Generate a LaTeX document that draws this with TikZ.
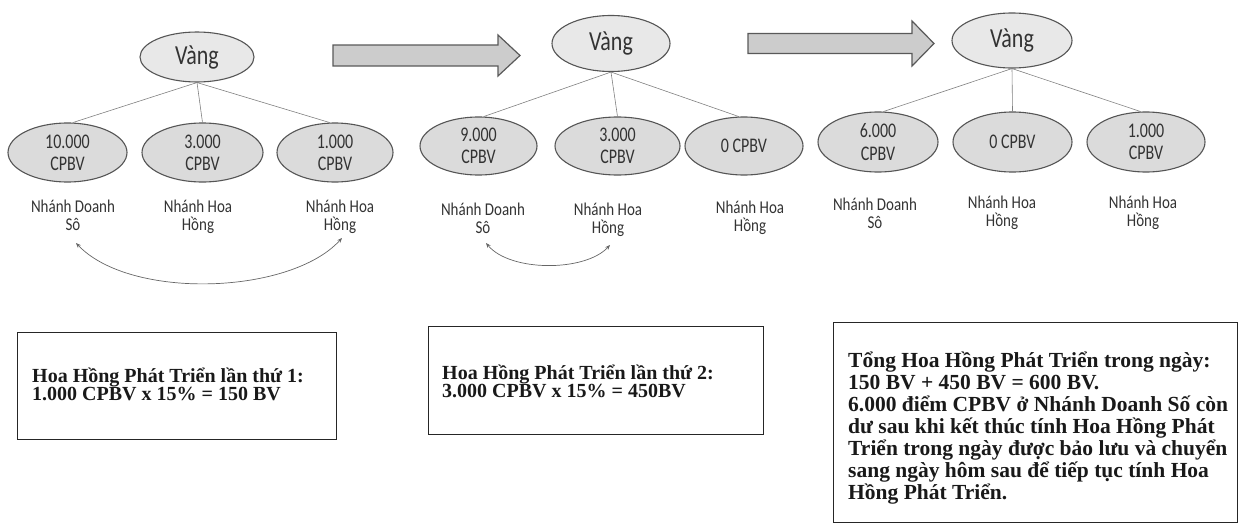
\documentclass[tikz,border=0pt]{standalone}
\usepackage{fontspec}
\usepackage{graphicx}
\setmainfont{Carlito}
\newfontfamily\tnr{Liberation Serif}
\usetikzlibrary{shapes.geometric,arrows.meta}
\definecolor{edge}{HTML}{555555}
\newcommand\vs[2]{\scalebox{1}[#1]{#2}}
\begin{document}
\begin{tikzpicture}[x=1pt,y=-1pt,
 oval/.style={ellipse, draw=edge, line width=1.1pt, fill=black!14, inner sep=0pt, text=black!80},
 topoval/.style={oval, fill=black!9, font=\fontsize{22}{22}\selectfont},
 kid/.style={oval, font=\fontsize{16}{17}\selectfont},
 lab/.style={inner sep=0pt, anchor=base, text=black!80, font=\fontsize{15}{15}\selectfont},
 link/.style={draw=black!50, line width=0.6pt},
 swap/.style={draw=black!60, line width=0.7pt, {Stealth[length=5pt,width=4pt]}-{Stealth[length=5pt,width=4pt]}},
 block/.style={draw=black!65, line width=1.2pt, fill=black!20},
 frame/.style={draw=black!85, line width=1pt, inner sep=0pt, anchor=north west},
 boxtext/.style={inner sep=0pt, anchor=base west, text=black!90, font=\tnr\bfseries}
]
\useasboundingbox (0,0) rectangle (1240,525);

% ---------- panel 1
\node[topoval, minimum width=114pt, minimum height=50pt] (v1) at (197,57) {\vs{1.25}{Vàng}};
\node[kid, minimum width=119pt, minimum height=59pt] (c11) at (67.5,152.5) {\vs{1.3}{\parbox{60pt}{\centering 10.000\\CPBV}}};
\node[kid, minimum width=121pt, minimum height=59pt] (c12) at (202.5,152.5) {\vs{1.3}{\parbox{60pt}{\centering 3.000\\CPBV}}};
\node[kid, minimum width=116pt, minimum height=59pt] (c13) at (335,152.5) {\vs{1.3}{\parbox{60pt}{\centering 1.000\\CPBV}}};
\draw[link] (v1.south) -- (c11.80);
\draw[link] (v1.south) -- (c12.north);
\draw[link] (v1.south) -- (c13.100);
\node[lab] (l11) at (73,212) {\vs{1.2}{\parbox[t]{100pt}{\centering Nhánh Doanh\\Sô}}};
\node[lab] (l12) at (198,212) {\vs{1.2}{\parbox[t]{100pt}{\centering Nhánh Hoa\\Hồng}}};
\node[lab] (l13) at (340,212) {\vs{1.2}{\parbox[t]{100pt}{\centering Nhánh Hoa\\Hồng}}};
\coordinate (s1a) at (76,243);
\coordinate (s1b) at (342,238);
\draw[swap] (s1a) .. controls (130,300) and (290,295) .. (s1b);

% ---------- arrow 1
\draw[block] (333,45) -- (498,45) -- (498,35) -- (520,55.5) -- (498,76) -- (498,66) -- (333,66) -- cycle;

% ---------- panel 2
\node[topoval, minimum width=118pt, minimum height=56pt] (v2) at (611,43.5) {\vs{1.25}{Vàng}};
\node[kid, minimum width=117pt, minimum height=58pt] (c21) at (478.5,146) {\vs{1.3}{\parbox{60pt}{\centering 9.000\\CPBV}}};
\node[kid, minimum width=125pt, minimum height=58pt] (c22) at (617.5,146) {\vs{1.3}{\parbox{60pt}{\centering 3.000\\CPBV}}};
\node[kid, minimum width=118pt, minimum height=58pt] (c23) at (744,146) {\vs{1.3}{0 CPBV}};
\draw[link] (v2.south) -- (c21.80);
\draw[link] (v2.south) -- (c22.north);
\draw[link] (v2.south) -- (c23.100);
\node[lab] (l21) at (483,215) {\vs{1.2}{\parbox[t]{100pt}{\centering Nhánh Doanh\\Sô}}};
\node[lab] (l22) at (608,215) {\vs{1.2}{\parbox[t]{100pt}{\centering Nhánh Hoa\\Hồng}}};
\node[lab] (l23) at (750,213) {\vs{1.2}{\parbox[t]{100pt}{\centering Nhánh Hoa\\Hồng}}};
\coordinate (s2a) at (486,243);
\coordinate (s2b) at (610,245);
\draw[swap] (s2a) .. controls (510,272) and (585,272) .. (s2b);

% ---------- arrow 2
\draw[block] (748,33.5) -- (912,33.5) -- (912,21) -- (934,43.5) -- (912,66) -- (912,53.5) -- (748,53.5) -- cycle;

% ---------- panel 3
\node[topoval, minimum width=120pt, minimum height=55pt] (v3) at (1012,40.5) {\vs{1.25}{Vàng}};
\node[kid, minimum width=120pt, minimum height=60pt] (c31) at (878,142) {\vs{1.3}{\parbox{60pt}{\centering 6.000\\CPBV}}};
\node[kid, minimum width=119pt, minimum height=60pt] (c32) at (1012.5,142) {\vs{1.3}{0 CPBV}};
\node[kid, minimum width=118pt, minimum height=60pt] (c33) at (1146,142) {\vs{1.3}{\parbox{60pt}{\centering 1.000\\CPBV}}};
\draw[link] (v3.south) -- (c31.80);
\draw[link] (v3.south) -- (c32.north);
\draw[link] (v3.south) -- (c33.100);
\node[lab] (l31) at (875,210) {\vs{1.2}{\parbox[t]{100pt}{\centering Nhánh Doanh\\Sô}}};
\node[lab] (l32) at (1002,208) {\vs{1.2}{\parbox[t]{100pt}{\centering Nhánh Hoa\\Hồng}}};
\node[lab] (l33) at (1143,208) {\vs{1.2}{\parbox[t]{100pt}{\centering Nhánh Hoa\\Hồng}}};

% ---------- boxes
\node[frame, minimum width=319pt, minimum height=107pt] (b1) at (17,332) {};
\node[boxtext] (t1) at (32,382) {\parbox[t]{300pt}{\fontsize{20}{18.5}\selectfont Hoa Hồng Phát Triển lần thứ 1:\\1.000 CPBV x 15\% = 150 BV}};

\node[frame, minimum width=335pt, minimum height=108pt] (b2) at (428,326) {};
\node[boxtext] (t2) at (442,379) {\parbox[t]{310pt}{\fontsize{20}{18.5}\selectfont Hoa Hồng Phát Triển lần thứ 2:\\3.000 CPBV x 15\% = 450BV}};

\node[frame, minimum width=404pt, minimum height=200pt] (b3) at (833,322) {};
\node[boxtext] (t3) at (848,367) {\parbox[t]{390pt}{\fontsize{21.5}{22}\selectfont Tổng Hoa Hồng Phát Triển trong ngày:\\150 BV + 450 BV = 600 BV.\\6.000 điểm CPBV ở Nhánh Doanh Số còn\\dư sau khi kết thúc tính Hoa Hồng Phát\\Triển trong ngày được bảo lưu và chuyển\\sang ngày hôm sau để tiếp tục tính Hoa\\Hồng Phát Triển.}};
\end{tikzpicture}
\end{document}
